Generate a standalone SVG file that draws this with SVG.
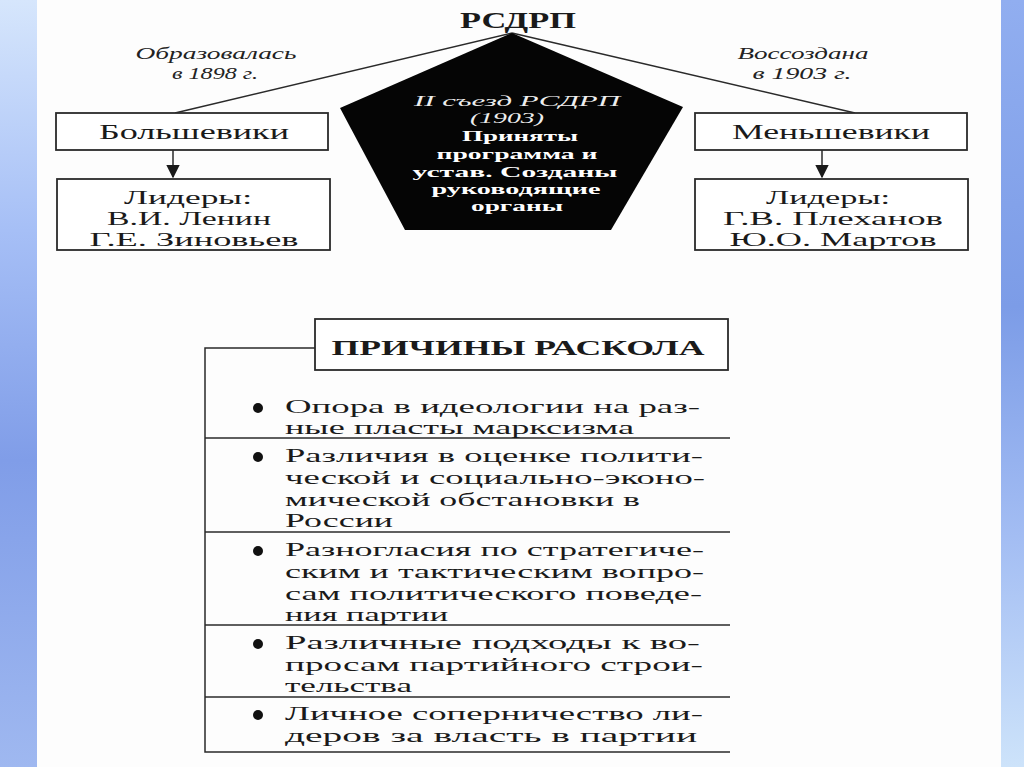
<svg xmlns="http://www.w3.org/2000/svg" width="1024" height="767" viewBox="0 0 1024 767">
<defs>
<linearGradient id="gl" x1="0" y1="0" x2="0" y2="1">
<stop offset="0" stop-color="#d6e6fc"/>
<stop offset="0.3" stop-color="#a6bff6"/>
<stop offset="0.6" stop-color="#809de8"/>
<stop offset="1" stop-color="#9fb8f0"/>
</linearGradient>
<linearGradient id="gr" x1="0" y1="0" x2="0" y2="1">
<stop offset="0" stop-color="#91aef0"/>
<stop offset="0.4" stop-color="#7c9ce7"/>
<stop offset="0.7" stop-color="#a3bdf3"/>
<stop offset="1" stop-color="#cde3fa"/>
</linearGradient>
<marker id="arr" viewBox="0 0 10 10" refX="9" refY="5" markerWidth="9" markerHeight="9" markerUnits="strokeWidth" orient="auto">
<path d="M0,0 L10,5 L0,10 z" fill="#1a1a1a"/>
</marker>
<style>
.box{fill:#fff;stroke:#2a2a2a;stroke-width:1.8}
.ln{fill:none;stroke:#2a2a2a;stroke-width:1.5}
.t{font-family:"Liberation Serif","Times New Roman",serif;fill:#1a1a1a}
.big{font-size:18px;text-anchor:middle}
.it{font-family:"Liberation Serif","Times New Roman",serif;font-style:italic;font-size:17px;fill:#222;text-anchor:middle}
.w{font-family:"Liberation Serif","Times New Roman",serif;font-size:15px;fill:#fff;text-anchor:middle;font-weight:bold}
.wi{font-family:"Liberation Serif","Times New Roman",serif;font-size:15px;fill:#eee;text-anchor:middle;font-style:italic}
.r{font-size:18px}
</style>
</defs>
<rect width="1024" height="767" fill="#fdfdfd"/>
<rect x="0" y="0" width="37" height="767" fill="url(#gl)"/>
<rect x="1001" y="0" width="23" height="767" fill="url(#gr)"/>

<g id="connectors">
<line class="ln" x1="512" y1="33" x2="175" y2="113"/>
<line class="ln" x1="512" y1="33" x2="855" y2="113"/>
<line class="ln" x1="173" y1="150" x2="173" y2="177" marker-end="url(#arr)"/>
<line class="ln" x1="822" y1="150" x2="822" y2="177" marker-end="url(#arr)"/>
<polyline class="ln" points="315,348 205,348 205,752 730,752"/>
<line class="ln" x1="205" y1="438" x2="730" y2="438"/>
<line class="ln" x1="205" y1="532" x2="730" y2="532"/>
<line class="ln" x1="205" y1="625" x2="730" y2="625"/>
<line class="ln" x1="205" y1="697" x2="730" y2="697"/>
</g>

<g id="rsdrp">
<text class="t" x="518" y="28" font-size="23" font-weight="bold" text-anchor="middle" textLength="116" lengthAdjust="spacingAndGlyphs">РСДРП</text>
</g>

<g id="label-left">
<text class="it" x="216" y="59" textLength="161" lengthAdjust="spacingAndGlyphs">Образовалась</text>
<text class="it" x="215" y="79" textLength="86" lengthAdjust="spacingAndGlyphs">в 1898 г.</text>
</g>
<g id="label-right">
<text class="it" x="803" y="59" textLength="131" lengthAdjust="spacingAndGlyphs">Воссоздана</text>
<text class="it" x="802" y="79" textLength="99" lengthAdjust="spacingAndGlyphs">в 1903 г.</text>
</g>

<g id="congress">
<polygon points="512,33 683,107 611,230 405,230 340,108" fill="#050505"/>
<text class="wi" x="517" y="106" textLength="206" lengthAdjust="spacingAndGlyphs">II съезд РСДРП</text>
<text class="wi" x="507" y="123" textLength="74" lengthAdjust="spacingAndGlyphs">(1903)</text>
<text class="w" x="520" y="141" textLength="116" lengthAdjust="spacingAndGlyphs">Приняты</text>
<text class="w" x="517" y="159" textLength="161" lengthAdjust="spacingAndGlyphs">программа и</text>
<text class="w" x="515" y="177" textLength="205" lengthAdjust="spacingAndGlyphs">устав. Созданы</text>
<text class="w" x="516" y="194" textLength="169" lengthAdjust="spacingAndGlyphs">руководящие</text>
<text class="w" x="517" y="211" textLength="92" lengthAdjust="spacingAndGlyphs">органы</text>
</g>

<g id="bolsheviki">
<rect class="box" x="56" y="113" width="272" height="37"/>
<text class="t" x="194" y="139" font-size="20" text-anchor="middle" textLength="190" lengthAdjust="spacingAndGlyphs">Большевики</text>
</g>
<g id="leaders-left">
<rect class="box" x="57" y="179" width="273" height="71"/>
<text class="t big" x="188" y="204" textLength="128" lengthAdjust="spacingAndGlyphs">Лидеры:</text>
<text class="t big" x="189" y="225" textLength="164" lengthAdjust="spacingAndGlyphs">В.И. Ленин</text>
<text class="t big" x="194" y="246" textLength="209" lengthAdjust="spacingAndGlyphs">Г.Е. Зиновьев</text>
</g>

<g id="mensheviki">
<rect class="box" x="695" y="113" width="272" height="37"/>
<text class="t" x="831" y="139" font-size="20" text-anchor="middle" textLength="198" lengthAdjust="spacingAndGlyphs">Меньшевики</text>
</g>
<g id="leaders-right">
<rect class="box" x="695" y="179" width="273" height="71"/>
<text class="t big" x="828" y="204" textLength="124" lengthAdjust="spacingAndGlyphs">Лидеры:</text>
<text class="t big" x="833" y="225" textLength="220" lengthAdjust="spacingAndGlyphs">Г.В. Плеханов</text>
<text class="t big" x="833" y="246" textLength="207" lengthAdjust="spacingAndGlyphs">Ю.О. Мартов</text>
</g>

<g id="causes-title">
<rect class="box" x="315" y="319" width="413" height="51"/>
<text class="t" x="518" y="355" font-size="20" font-weight="bold" text-anchor="middle" textLength="373" lengthAdjust="spacingAndGlyphs">ПРИЧИНЫ РАСКОЛА</text>
</g>

<g id="cause-1">
<circle cx="258" cy="408" r="5" fill="#111"/>
<text class="t r" x="285" y="413" textLength="415" lengthAdjust="spacingAndGlyphs">Опора в идеологии на раз-</text>
<text class="t r" x="285" y="434" textLength="349" lengthAdjust="spacingAndGlyphs">ные пласты марксизма</text>
</g>
<g id="cause-2">
<circle cx="258" cy="457" r="5" fill="#111"/>
<text class="t r" x="285" y="462" textLength="418" lengthAdjust="spacingAndGlyphs">Различия в оценке полити-</text>
<text class="t r" x="285" y="484" textLength="420" lengthAdjust="spacingAndGlyphs">ческой и социально-эконо-</text>
<text class="t r" x="285" y="506" textLength="355" lengthAdjust="spacingAndGlyphs">мической обстановки в</text>
<text class="t r" x="285" y="527" textLength="108" lengthAdjust="spacingAndGlyphs">России</text>
</g>
<g id="cause-3">
<circle cx="258" cy="551" r="5" fill="#111"/>
<text class="t r" x="285" y="556" textLength="419" lengthAdjust="spacingAndGlyphs">Разногласия по стратегиче-</text>
<text class="t r" x="285" y="578" textLength="419" lengthAdjust="spacingAndGlyphs">ским и тактическим вопро-</text>
<text class="t r" x="285" y="600" textLength="417" lengthAdjust="spacingAndGlyphs">сам политического поведе-</text>
<text class="t r" x="285" y="621" textLength="163" lengthAdjust="spacingAndGlyphs">ния партии</text>
</g>
<g id="cause-4">
<circle cx="258" cy="644" r="5" fill="#111"/>
<text class="t r" x="285" y="649" textLength="415" lengthAdjust="spacingAndGlyphs">Различные подходы к во-</text>
<text class="t r" x="285" y="671" textLength="418" lengthAdjust="spacingAndGlyphs">просам партийного строи-</text>
<text class="t r" x="285" y="692" textLength="127" lengthAdjust="spacingAndGlyphs">тельства</text>
</g>
<g id="cause-5">
<circle cx="258" cy="715" r="5" fill="#111"/>
<text class="t r" x="285" y="720" textLength="418" lengthAdjust="spacingAndGlyphs">Личное соперничество ли-</text>
<text class="t r" x="285" y="742" textLength="412" lengthAdjust="spacingAndGlyphs">деров за власть в партии</text>
</g>
</svg>
